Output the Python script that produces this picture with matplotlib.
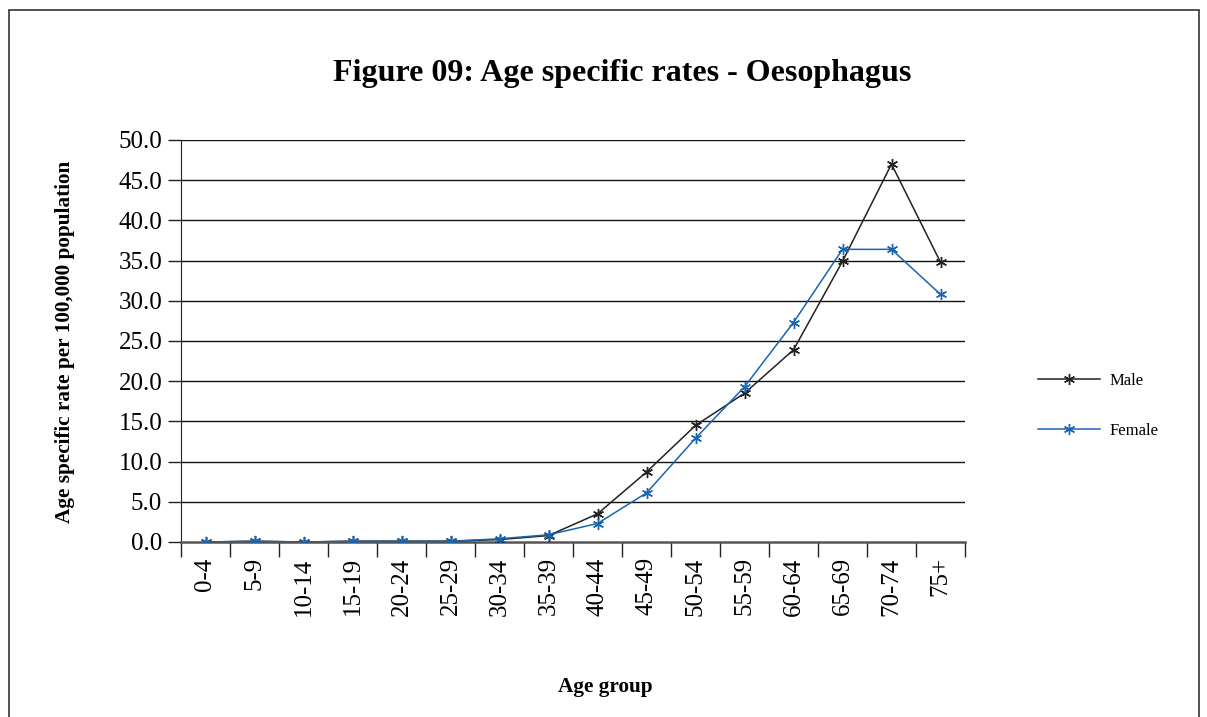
import numpy as np
import matplotlib
matplotlib.use("Agg")
import matplotlib.pyplot as plt
from matplotlib.patches import Rectangle

age_groups = ["0-4", "5-9", "10-14", "15-19", "20-24", "25-29", "30-34", "35-39",
              "40-44", "45-49", "50-54", "55-59", "60-64", "65-69", "70-74", "75+"]
male = [0.0, 0.1, 0.0, 0.1, 0.1, 0.1, 0.3, 0.8, 3.5, 8.7, 14.5, 18.5, 23.9, 34.9, 47.0, 34.8]
female = [0.0, 0.1, 0.0, 0.1, 0.1, 0.1, 0.4, 0.9, 2.3, 6.1, 12.9, 19.3, 27.3, 36.4, 36.4, 30.8]
y_ticks = np.arange(0, 50.1, 5)

plt.rcParams['font.family'] = ['Liberation Serif', 'DejaVu Serif']

fig = plt.figure(figsize=(12.07, 7.17), dpi=100)
W, H = 1207, 717

# outer frame
fig.patches.append(Rectangle((9 / W, -0.1), (1199 - 9) / W, 1.1 - 10 / H,
                             transform=fig.transFigure, fill=False,
                             edgecolor='#333333', lw=1.2))

ax = fig.add_axes([181 / W, 1 - 542 / H, (965 - 181) / W, (542 - 140) / H])

x = np.arange(len(age_groups))
star = (6, 2, 0)
ax.plot(x, male, color='#222222', lw=1.1, marker=star, ms=8, mew=1.0, label='Male', zorder=3)
ax.plot(x, female, color='#1a64b0', lw=1.1, marker=star, ms=8, mew=1.0, label='Female', zorder=4)

ax.set_ylim(0, 50)
ax.set_xlim(-0.5, len(age_groups) - 0.5)
ax.set_yticks(y_ticks)
ax.set_yticklabels([f"{v:.1f}" for v in y_ticks], fontsize=18)
for v in y_ticks[1:]:
    ax.axhline(v, color='#111111', lw=1.0, zorder=1)

ax.set_xticks(x)
ax.set_xticklabels(age_groups, rotation=90, fontsize=18)
ax.set_xticks(np.arange(-0.5, len(age_groups)), minor=True)
ax.tick_params(axis='x', which='major', length=0, pad=11)
ax.tick_params(axis='x', which='minor', length=11, width=1.0, direction='out', color='#222222')
ax.tick_params(axis='y', length=9.5, width=1.0, direction='out', pad=4, color='#222222')

for s in ['top', 'right']:
    ax.spines[s].set_visible(False)
ax.spines['left'].set_color('#222222')
ax.spines['bottom'].set_color('#555555')
ax.spines['bottom'].set_linewidth(1.8)

fig.text(622 / W, 1 - 73 / H, "Figure 09: Age specific rates - Oesophagus",
         ha='center', va='center', fontsize=23, fontweight='bold')
fig.text(65 / W, 1 - 342 / H, "Age specific rate per 100,000 population",
         ha='center', va='center', rotation=90, fontsize=15.3, fontweight='bold')
fig.text(605 / W, 1 - 687 / H, "Age group",
         ha='center', va='center', fontsize=15.3, fontweight='bold')

fig.legend(loc='center left', bbox_to_anchor=(1023 / W, 1 - 406 / H), frameon=False,
           fontsize=12, handlelength=3.7, labelspacing=2.05, handletextpad=0.6)

fig.savefig("out.png", dpi=100)
